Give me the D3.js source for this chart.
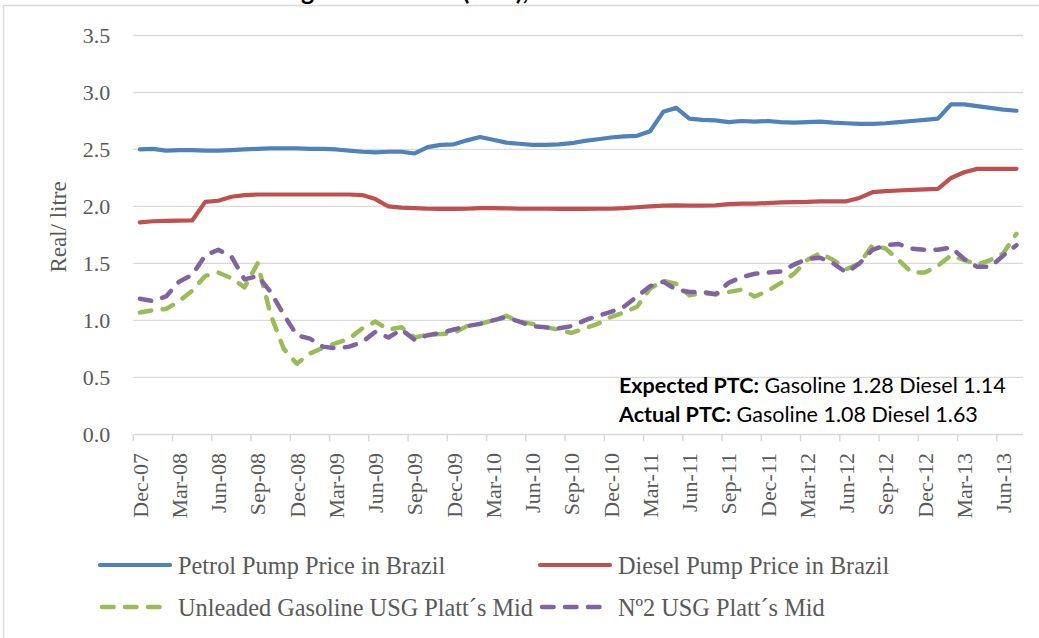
<!DOCTYPE html>
<html>
<head>
<meta charset="utf-8">
<script src="https://cdn.jsdelivr.net/npm/d3@7"></script>
<style>
  html, body { margin: 0; padding: 0; background: #fff; overflow: hidden; }
  svg { display: block; }
</style>
</head>
<body>
<div id="chart"></div>
<script>
const MONTHS = ["Jan","Feb","Mar","Apr","May","Jun","Jul","Aug","Sep","Oct","Nov","Dec"];

// Dec-07 .. Jul-13, one category per month
const categories = [];
for (let k = 0; k < 68; k++) {
    const m = (11 + k) % 12;
    const y = 7 + Math.floor((11 + k) / 12);
    categories.push(`${MONTHS[m]}-${String(y).padStart(2, "0")}`);
}
const tickLabels = categories.filter((d, i) => i % 3 === 0);
const yTicks = [0, 0.5, 1, 1.5, 2, 2.5, 3, 3.5];

const petrolBrazil = [
    2.50, 2.505, 2.49, 2.495, 2.495, 2.49, 2.49, 2.495, 2.50, 2.505,
    2.51, 2.51, 2.51, 2.505, 2.505, 2.50, 2.49, 2.48, 2.475, 2.48,
    2.48, 2.465, 2.52, 2.54, 2.545, 2.58, 2.61, 2.585, 2.56, 2.55,
    2.54, 2.54, 2.545, 2.555, 2.575, 2.59, 2.605, 2.615, 2.62, 2.66,
    2.83, 2.865, 2.77, 2.76, 2.755, 2.74, 2.75, 2.745, 2.75, 2.74,
    2.735, 2.74, 2.745, 2.735, 2.73, 2.725, 2.725, 2.73, 2.74, 2.75,
    2.76, 2.77, 2.895, 2.895, 2.88, 2.865, 2.85, 2.84
];
const dieselBrazil = [
    1.86, 1.87, 1.873, 1.875, 1.877, 2.04, 2.05, 2.085, 2.10, 2.105,
    2.105, 2.105, 2.105, 2.105, 2.105, 2.105, 2.105, 2.10, 2.065, 2.00,
    1.99, 1.985, 1.98, 1.978, 1.978, 1.98, 1.985, 1.985, 1.983, 1.98,
    1.98, 1.98, 1.978, 1.978, 1.978, 1.98, 1.98, 1.985, 1.993, 2.00,
    2.008, 2.01, 2.008, 2.008, 2.01, 2.02, 2.025, 2.025, 2.03, 2.035,
    2.038, 2.04, 2.045, 2.045, 2.045, 2.075, 2.125, 2.135, 2.14, 2.145,
    2.15, 2.155, 2.25, 2.30, 2.33, 2.33, 2.33, 2.33
];
const gasolineUSG = [
    1.07, 1.09, 1.10, 1.17, 1.26, 1.39, 1.42, 1.37, 1.29, 1.50,
    1.05, 0.75, 0.62, 0.71, 0.76, 0.80, 0.84, 0.93, 0.99, 0.92,
    0.94, 0.85, 0.875, 0.88, 0.89, 0.95, 0.97, 1.00, 1.04, 0.99,
    0.97, 0.94, 0.92, 0.89, 0.93, 0.97, 1.03, 1.07, 1.12, 1.28,
    1.35, 1.32, 1.22, 1.24, 1.23, 1.25, 1.27, 1.21, 1.26, 1.33,
    1.41, 1.53, 1.59, 1.53, 1.45, 1.50, 1.66, 1.63, 1.53, 1.42,
    1.42, 1.48, 1.57, 1.53, 1.49, 1.53, 1.59, 1.76
];
const dieselUSG = [
    1.19, 1.17, 1.21, 1.34, 1.40, 1.57, 1.62, 1.56, 1.36, 1.39,
    1.25, 1.05, 0.87, 0.84, 0.77, 0.755, 0.77, 0.81, 0.90, 0.85,
    0.92, 0.83, 0.87, 0.89, 0.92, 0.95, 0.97, 1.00, 1.03, 0.99,
    0.95, 0.94, 0.93, 0.95, 1.00, 1.04, 1.075, 1.12, 1.21, 1.30,
    1.34, 1.27, 1.25, 1.25, 1.23, 1.33, 1.38, 1.41, 1.42, 1.43,
    1.49, 1.54, 1.55, 1.50, 1.42, 1.50, 1.62, 1.66, 1.67, 1.63,
    1.62, 1.62, 1.64, 1.54, 1.47, 1.47, 1.57, 1.66
];

const seriesNames = [
    "Petrol Pump Price in Brazil",
    "Diesel Pump Price in Brazil",
    "Unleaded Gasoline USG Platt´s Mid",
    "Nº2 USG Platt´s Mid"
];
const seriesColors = ["#4F81BD", "#C0504D", "#9BBB59", "#8064A2"];
const seriesValues = [petrolBrazil, dieselBrazil, gasolineUSG, dieselUSG];
const seriesDashed = [false, false, true, true];

const annotations = [
    { label: "Expected PTC:", text: " Gasoline 1.28 Diesel 1.14" },
    { label: "Actual PTC:", text: " Gasoline 1.08 Diesel 1.63" }
];

const W = 1039, H = 638;
const plot = { left: 133.3, right: 1023, top: 35.5, bottom: 434.4 };
const GRID = "#D9D9D9";
const TEXT = "#595959";
const SERIF = "'Liberation Serif', 'DejaVu Serif', serif";
const SANS = "Lato, 'Open Sans', sans-serif";

const svg = d3.select("#chart").append("svg")
    .attr("width", W)
    .attr("height", H);

// title sits above the crop, only its lowest pixels show
svg.append("text")
    .attr("x", 4)
    .attr("y", -0.5)
    .style("font-family", SANS)
    .style("font-weight", "bold")
    .style("font-size", "25px")
    .attr("fill", "#000")
    .text("Fuel Prices and Pass-Through Coefficient (PTC), Dec07-Jul13");

svg.append("rect")
    .attr("x", 3.5).attr("y", 5.5)
    .attr("width", W + 10).attr("height", H + 10)
    .attr("fill", "#fff")
    .attr("stroke", GRID)
    .attr("stroke-width", 1.5);

const x = d3.scaleBand()
    .domain(categories)
    .range([plot.left, plot.right])
    .padding(0);

const y = d3.scaleLinear()
    .domain([0, 3.5])
    .range([plot.bottom, plot.top]);

const cx = d => x(d) + x.bandwidth() / 2;

// horizontal gridlines
svg.append("g")
    .selectAll("line")
    .data(yTicks.filter(d => d > 0))
    .join("line")
    .attr("x1", plot.left).attr("x2", plot.right)
    .attr("y1", d => y(d)).attr("y2", d => y(d))
    .attr("stroke", GRID)
    .attr("stroke-width", 1.3);

// y axis labels
const yAxis = svg.append("g")
    .attr("transform", `translate(${plot.left},0)`)
    .call(d3.axisLeft(y).tickValues(yTicks).tickFormat(d3.format(".1f")).tickSize(0).tickPadding(23));
yAxis.select(".domain").remove();
yAxis.selectAll("text")
    .style("font-family", SERIF)
    .style("font-size", "22px")
    .attr("fill", TEXT);

svg.append("text")
    .attr("transform", `translate(66,${(plot.top + plot.bottom) / 2 - 8}) rotate(-90)`)
    .attr("text-anchor", "middle")
    .style("font-family", SERIF)
    .style("font-size", "23px")
    .attr("fill", TEXT)
    .text("Real/ litre");

// x axis: baseline, ticks between categories, rotated labels
svg.append("line")
    .attr("x1", plot.left).attr("x2", plot.right)
    .attr("y1", plot.bottom).attr("y2", plot.bottom)
    .attr("stroke", GRID)
    .attr("stroke-width", 1.5);

svg.append("g")
    .selectAll("line")
    .data(tickLabels)
    .join("line")
    .attr("x1", d => x(d)).attr("x2", d => x(d))
    .attr("y1", plot.bottom).attr("y2", plot.bottom + 7)
    .attr("stroke", GRID)
    .attr("stroke-width", 1.5);

svg.append("g")
    .selectAll("text")
    .data(tickLabels)
    .join("text")
    .attr("transform", d => `translate(${cx(d)},453) rotate(-90)`)
    .attr("text-anchor", "end")
    .attr("dy", "0.35em")
    .style("font-family", SERIF)
    .style("font-size", "22px")
    .attr("fill", TEXT)
    .text(d => d);

// series
const line = d3.line()
    .x((d, i) => cx(categories[i]))
    .y(d => y(d));

seriesValues.forEach((vals, k) => {
    svg.append("path")
        .datum(vals)
        .attr("fill", "none")
        .attr("stroke", seriesColors[k])
        .attr("stroke-width", seriesDashed[k] ? 4.5 : 4.2)
        .attr("stroke-linejoin", "round")
        .attr("stroke-linecap", "round")
        .attr("stroke-dasharray", seriesDashed[k] ? "11.5 11.5" : null)
        .attr("d", line);
});

// PTC annotation
annotations.forEach((a, i) => {
    const t = svg.append("text")
        .attr("x", 619)
        .attr("y", 393 + i * 29)
        .style("font-family", SANS)
        .style("font-size", "21.5px")
        .attr("fill", "#000");
    t.append("tspan").style("font-weight", "bold").text(a.label);
    t.append("tspan").text(a.text);
});

// legend
const legendPos = [
    { x: 100, y: 565 }, { x: 540, y: 565 },
    { x: 100, y: 607 }, { x: 540, y: 607 }
];
seriesNames.forEach((name, k) => {
    const p = legendPos[k];
    const g = svg.append("g").attr("transform", `translate(${p.x},${p.y})`);
    g.append("line")
        .attr("x1", seriesDashed[k] ? 2 : 0).attr("x2", 70)
        .attr("y1", 0).attr("y2", 0)
        .attr("stroke", seriesColors[k])
        .attr("stroke-width", seriesDashed[k] ? 4.5 : 4.2)
        .attr("stroke-linecap", "round")
        .attr("stroke-dasharray", seriesDashed[k] ? "11.5 11.5" : null);
    g.append("text")
        .attr("x", 78)
        .attr("dy", "0.35em")
        .style("font-family", SERIF)
        .style("font-size", "24.3px")
        .attr("fill", TEXT)
        .text(name);
});
</script>
</body>
</html>
